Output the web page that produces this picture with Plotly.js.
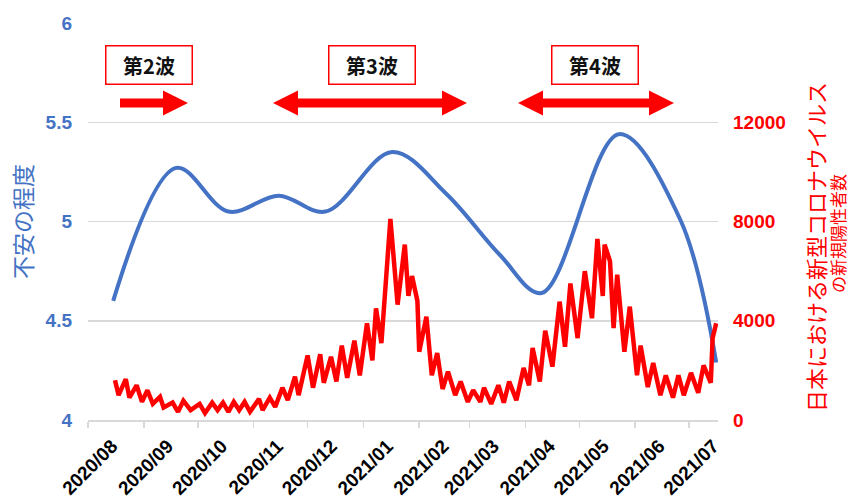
<!DOCTYPE html>
<html>
<head>
<meta charset="utf-8">
<script src="https://cdn.plot.ly/plotly-3.0.1.min.js"></script>
<style>html,body{margin:0;padding:0;background:#fff;}#chart{width:851px;height:499px;}</style>
</head>
<body>
<div id="chart"></div>
<script>
// ---- data ----
const monthTicks = ['2020-08-01','2020-09-01','2020-10-01','2020-11-01','2020-12-01','2021-01-01','2021-02-01','2021-03-01','2021-04-01','2021-05-01','2021-06-01','2021-07-01'];
const monthLabels = ['2020/08','2020/09','2020/10','2020/11','2020/12','2021/01','2021/02','2021/03','2021/04','2021/05','2021/06','2021/07'];

// anxiety level (left axis)
const anxietyDates = ['2020-08-15','2020-09-19','2020-10-18','2020-11-15','2020-12-11','2021-01-17','2021-02-16','2021-03-18','2021-04-10','2021-05-23','2021-06-26','2021-07-16'];
const anxietyValues = [4.60,5.27,5.05,5.13,5.05,5.35,5.14,4.83,4.64,5.44,5.01,4.29];

// new positive cases in Japan (right axis)
const caseDates = ['2020-08-16','2020-08-18','2020-08-22','2020-08-24','2020-08-28','2020-08-31','2020-09-03','2020-09-06','2020-09-10','2020-09-12','2020-09-17','2020-09-20','2020-09-23','2020-09-27','2020-10-02','2020-10-05','2020-10-09','2020-10-12','2020-10-15','2020-10-18','2020-10-21','2020-10-24','2020-10-27','2020-10-30','2020-11-04','2020-11-06','2020-11-10','2020-11-13','2020-11-17','2020-11-20','2020-11-24','2020-11-26','2020-12-01','2020-12-04','2020-12-08','2020-12-10','2020-12-14','2020-12-17','2020-12-20','2020-12-23','2020-12-27','2020-12-30','2021-01-03','2021-01-06','2021-01-08','2021-01-11','2021-01-16','2021-01-20','2021-01-24','2021-01-26','2021-01-28','2021-01-31','2021-02-01','2021-02-05','2021-02-08','2021-02-11','2021-02-14','2021-02-17','2021-02-21','2021-02-24','2021-02-28','2021-03-03','2021-03-07','2021-03-09','2021-03-13','2021-03-17','2021-03-20','2021-03-23','2021-03-27','2021-03-31','2021-04-03','2021-04-05','2021-04-09','2021-04-12','2021-04-16','2021-04-20','2021-04-23','2021-04-26','2021-04-30','2021-05-04','2021-05-08','2021-05-11','2021-05-14','2021-05-15','2021-05-18','2021-05-20','2021-05-22','2021-05-26','2021-05-29','2021-06-02','2021-06-04','2021-06-08','2021-06-11','2021-06-15','2021-06-18','2021-06-22','2021-06-25','2021-06-28','2021-07-02','2021-07-06','2021-07-09','2021-07-13','2021-07-14','2021-07-16'];
const caseValues = [1600,1000,1650,900,1400,730,1200,650,930,500,700,330,780,400,650,280,700,400,700,330,730,400,730,330,850,400,900,530,1300,800,1750,1000,2600,1300,2650,1500,2550,1550,3000,1700,3200,1800,3900,2400,4500,3100,8100,4650,7070,5000,5800,4800,2750,4160,1800,2700,1250,1950,1000,1550,730,1200,730,1300,650,1400,700,1550,800,2100,1400,2900,1550,3600,2150,4770,2950,5500,3300,6000,4100,7300,5000,7070,6400,3700,5860,2750,4570,1800,3000,1330,2300,1000,1800,900,1800,1000,1900,1100,2200,1500,3300,3900];

const leftTicks = [4,4.5,5,5.5,6];
const leftTickLabels = ['4','4.5','5','5.5','6'];
const rightTicks = [0,4000,8000,12000];
const rightTickLabels = ['0','4000','8000','12000'];

const leftTitle = '不安の程度';
const rightTitleLine1 = '日本における新型コロナウイルス';
const rightTitleLine2 = 'の新規陽性者数';
const waveLabels = ['第2波','第3波','第4波'];

// ---- layout helpers (decorations only) ----
const W = 851, H = 499;
const PL = 88, PR = 718, PT = 23, PB = 420;
function px(x){ return (x - PL) / (PR - PL); }
function py(y){ return (PB - y) / (PB - PT); }
function arrowPath(x0, x1, yc, both){
  const s = 4.5, h = 12.5, hl = 25;
  let pts = [];
  if (both){
    pts.push([x0, yc], [x0+hl, yc-h], [x0+hl, yc-s]);
  } else {
    pts.push([x0, yc-s]);
  }
  pts.push([x1-hl, yc-s], [x1-hl, yc-h], [x1, yc], [x1-hl, yc+h], [x1-hl, yc+s]);
  if (both){
    pts.push([x0+hl, yc+s], [x0+hl, yc+h]);
  } else {
    pts.push([x0, yc+s]);
  }
  return 'M' + pts.map(p => px(p[0]).toFixed(5) + ',' + py(p[1]).toFixed(5)).join(' L') + ' Z';
}

const FONT = '"Liberation Sans", Arial, "Noto Sans CJK JP", sans-serif';
const JFONT = '"Noto Sans CJK JP", "Liberation Sans", sans-serif';
const BLUE = '#4472C4', RED = '#FF0000', GRID = '#d9d9d9';

const traces = [
  {
    x: anxietyDates, y: anxietyValues, type: 'scatter', mode: 'lines',
    line: {color: BLUE, width: 4, shape: 'spline', smoothing: 1},
    yaxis: 'y', hoverinfo: 'skip'
  },
  {
    x: caseDates, y: caseValues, type: 'scatter', mode: 'lines',
    line: {color: RED, width: 4.5},
    yaxis: 'y2', hoverinfo: 'skip'
  }
];

const boxCenters = [149, 371.5, 594.5];
const annotations = waveLabels.map((t, i) => ({
  text: '<b>' + t + '</b>', xref: 'paper', yref: 'paper',
  x: px(boxCenters[i]), y: py(65), xanchor: 'center', yanchor: 'middle',
  showarrow: false, font: {family: JFONT, size: 20, color: '#111'},
  bgcolor: '#fff', bordercolor: RED, borderwidth: 1.5, borderpad: 0,
  width: 85, height: 37
}));
// right-axis title (two lines of different size, as in the reference)
annotations.push({
  text: rightTitleLine1, xref: 'paper', yref: 'paper', x: px(815), y: py(247),
  xanchor: 'center', yanchor: 'middle', textangle: -90, showarrow: false,
  font: {family: JFONT, size: 22, color: RED}
});
annotations.push({
  text: rightTitleLine2, xref: 'paper', yref: 'paper', x: px(837), y: py(234),
  xanchor: 'center', yanchor: 'middle', textangle: -90, showarrow: false,
  font: {family: JFONT, size: 17, color: RED}, borderpad: 0
});

const shapes = [
  {type: 'path', xref: 'paper', yref: 'paper', path: arrowPath(120, 188, 103, false), fillcolor: RED, line: {width: 0}},
  {type: 'path', xref: 'paper', yref: 'paper', path: arrowPath(273, 467, 103, true), fillcolor: RED, line: {width: 0}},
  {type: 'path', xref: 'paper', yref: 'paper', path: arrowPath(518, 674, 103, true), fillcolor: RED, line: {width: 0}}
];

const layout = {
  width: W, height: H,
  margin: {l: PL, r: W - PR, t: PT, b: H - PB, pad: 0},
  paper_bgcolor: '#fff', plot_bgcolor: '#fff',
  showlegend: false,
  font: {family: FONT},
  xaxis: {
    type: 'date', range: ['2020-08-01', '2021-07-17'],
    tickmode: 'array', tickvals: monthTicks, ticktext: monthLabels,
    tickangle: -45, tickfont: {family: FONT, size: 19, color: '#000', weight: 'bold'},
    ticks: 'outside', ticklen: 6, tickwidth: 1.5, tickcolor: GRID,
    showline: true, linecolor: GRID, linewidth: 1.5,
    showgrid: false, zeroline: false, automargin: false,
    ticklabelshift: 24, ticklabelstandoff: 0
  },
  yaxis: {
    range: [4, 6], tickmode: 'array', tickvals: leftTicks, ticktext: leftTickLabels,
    tickfont: {family: FONT, size: 19, color: BLUE, weight: 'bold'},
    showgrid: true, gridcolor: GRID, gridwidth: 1.5, zeroline: false,
    ticks: '', ticklabelstandoff: 15, automargin: false,
    title: {text: leftTitle, font: {family: JFONT, size: 23, color: BLUE}, standoff: 6}
  },
  yaxis2: {
    range: [0, 16000], overlaying: 'y', side: 'right',
    tickmode: 'array', tickvals: rightTicks, ticktext: rightTickLabels,
    tickfont: {family: FONT, size: 19, color: RED, weight: 'bold'},
    showgrid: false, zeroline: false, ticks: '', ticklabelstandoff: 14, automargin: false
  },
  annotations: annotations,
  shapes: shapes
};

Plotly.newPlot('chart', traces, layout, {staticPlot: true, displayModeBar: false});
</script>
</body>
</html>
